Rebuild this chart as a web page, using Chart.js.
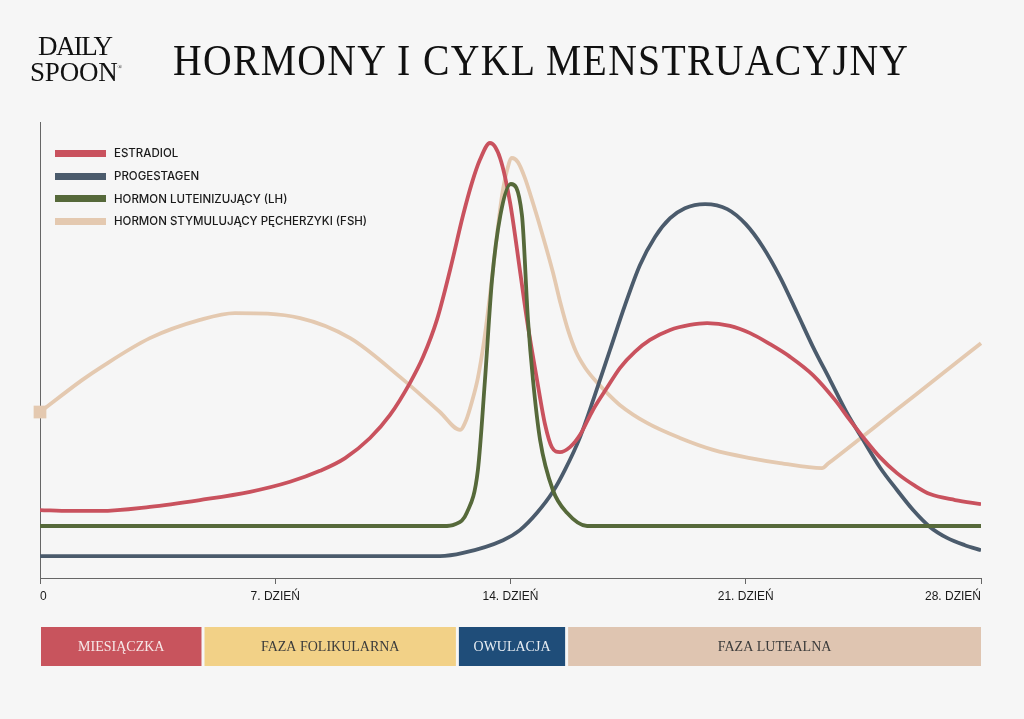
<!DOCTYPE html>
<html lang="pl">
<head>
<meta charset="utf-8">
<title>Hormony i cykl menstruacyjny</title>
<script src="https://cdn.jsdelivr.net/npm/chart.js@4.4.1/dist/chart.umd.min.js"></script>
<style>
  html, body { margin: 0; padding: 0; background: #f6f6f6; }
  #wrap { position: relative; width: 1024px; height: 719px; overflow: hidden; }
  #c { position: absolute; left: 0; top: 0; }
  #logo { position: absolute; left: 30px; top: 36px; font-family: "Liberation Serif", serif; color: #111; font-size: 27px; line-height: 21px; }
  #logo .l1 { padding-left: 8px; letter-spacing: -1.6px; }
  #logo .l2 { letter-spacing: -0.2px; }
  #logo sup { font-size: 6px; letter-spacing: 0; vertical-align: 12px; }
  #title { position: absolute; left: 173px; top: 39px; font-family: "Liberation Serif", serif; font-size: 44px; line-height: 44px; letter-spacing: 1.5px; color: #111; white-space: nowrap; transform-origin: 0 0; }
  #legend { position: absolute; left: 55px; top: 142px; font-family: Inter, "Liberation Sans", sans-serif; font-size: 11.5px; font-weight: 500; color: #1a1a1a; }
  #legend .row { height: 22.7px; display: flex; align-items: center; }
  #legend .sw { width: 51px; height: 7px; margin-right: 8px; }
</style>
</head>
<body>
<div id="wrap">
  <canvas id="c" width="1024" height="719"></canvas>
  <div id="logo"><div class="l1">DAILY</div><div class="l2">SPOON<sup>®</sup></div></div>
  <div id="title">HORMONY I CYKL MENSTRUACYJNY</div>
  <div id="legend"></div>
</div>
<script>
// dzień cyklu -> poziom (skala umowna 0-100)
var estradiolDays = [0, 0.89, 1.79, 3.27, 4.76, 6.25, 7.44, 8.33, 9.08, 9.82, 10.41, 11.01, 11.40, 11.81, 12.2, 12.59, 12.85, 13.09, 13.39, 13.69, 13.99, 14.28, 14.49, 14.79, 15.03, 15.23, 15.47, 15.77, 16.07, 16.45, 16.87, 17.26, 17.70, 18.15, 18.75, 19.34, 19.85, 20.53, 21.13, 21.72, 22.32, 23.0, 23.66, 24.1, 24.49, 24.99, 25.5, 26.04, 26.48, 27.23, 28];
var estradiolValues = [14.9, 14.7, 14.7, 15.6, 17.1, 18.9, 21.1, 23.5, 26.3, 30.7, 35.7, 42.8, 48.5, 56.6, 67.5, 79.6, 86.6, 91.7, 95.4, 92.1, 82.2, 67.5, 56.6, 43.4, 33.6, 28.7, 27.6, 28.7, 31.4, 36.8, 41.7, 46.1, 49.6, 52.2, 54.4, 55.5, 55.9, 55.3, 53.7, 51.3, 48.5, 44.5, 39.0, 34.6, 30.9, 26.5, 23.0, 20.2, 18.4, 17.1, 16.2];

var progestagenDays = [0, 11.9, 12.59, 13.78, 14.28, 14.79, 15.26, 15.62, 16.07, 16.51, 16.96, 17.41, 17.85, 18.30, 18.75, 19.19, 19.79, 20.45, 21.0, 21.51, 22.02, 22.53, 23.0, 23.51, 24.01, 24.49, 24.99, 25.5, 25.98, 26.48, 26.99, 27.52, 28];
var progestagenValues = [4.8, 4.8, 5.5, 8.3, 10.5, 14.3, 18.9, 23.7, 30.9, 40.1, 50.0, 59.9, 68.6, 74.8, 78.9, 81.1, 82.0, 80.9, 77.6, 72.6, 66.0, 58.1, 50.7, 43.4, 36.2, 30.3, 24.3, 19.3, 14.9, 11.2, 8.8, 7.2, 6.1];

var lhDays = [0, 12.0, 12.35, 12.7, 13.03, 13.24, 13.45, 13.7, 14.01, 14.34, 14.52, 14.67, 14.88, 15.26, 15.68, 16.28, 28];
var lhValues = [11.4, 11.4, 11.8, 14.3, 23.7, 43.4, 65.4, 79.6, 86.4, 79.6, 56.6, 43.4, 30.3, 19.3, 14.3, 11.4, 11.4];

var fshDays = [0, 1.25, 1.79, 3.27, 4.76, 5.80, 7.74, 9.23, 10.71, 11.90, 12.5, 12.68, 12.85, 13.03, 13.21, 13.39, 13.57, 13.75, 13.9, 14.04, 14.22, 14.43, 14.67, 14.97, 15.26, 15.5, 15.71, 15.95, 16.22, 16.51, 16.87, 17.26, 18.06, 19.04, 20.03, 21.13, 22.02, 23.27, 23.45, 25.59, 26.8, 28];
var fshValues = [36.4, 43.4, 46.1, 52.6, 56.6, 58.1, 57.0, 52.6, 44.1, 36.4, 32.5, 34.6, 38.6, 43.9, 51.8, 62.1, 73.5, 84.0, 89.5, 92.1, 91.2, 87.7, 82.2, 74.8, 67.1, 59.9, 54.4, 49.6, 46.1, 43.4, 40.6, 37.9, 34.0, 30.7, 28.1, 26.3, 25.2, 24.1, 25.1, 37.5, 44.5, 51.5];

var seriesNames = ['ESTRADIOL', 'PROGESTAGEN', 'HORMON LUTEINIZUJĄCY (LH)', 'HORMON STYMULUJĄCY PĘCHERZYKI (FSH)'];
var seriesColors = ['#c9525e', '#4b5b6c', '#56693a', '#e4c9b0'];

var tickDays = [0, 7, 14, 21, 28];

var phaseNames = ['MIESIĄCZKA', 'FAZA FOLIKULARNA', 'OWULACJA', 'FAZA LUTEALNA'];
var phaseStart = [0, 4.85, 12.42, 15.67];
var phaseEnd = [4.85, 12.42, 15.67, 28];
var phaseColors = ['#c8545d', '#f2d187', '#1f4d79', '#dfc5b1'];
var phaseText = ['#f6e8e8', '#3b3b3b', '#e9eef3', '#3b3b3b'];

function pts(days, vals) {
  var out = [];
  for (var i = 0; i < days.length; i++) out.push({x: days[i], y: vals[i]});
  return out;
}

function line(idx, days, vals, order) {
  return {
    label: seriesNames[idx],
    data: pts(days, vals),
    borderColor: seriesColors[idx],
    backgroundColor: seriesColors[idx],
    borderWidth: 3.8,
    pointRadius: 0,
    cubicInterpolationMode: 'monotone',
    order: order
  };
}

var fsh = line(3, fshDays, fshValues, 3);
fsh.pointRadius = fshDays.map(function(d, i) { return i === 0 ? 9 : 0; });
fsh.pointStyle = 'rect';
fsh.pointBorderWidth = 0;
fsh.clip = false;

// pasek faz cyklu pod osią
var phasePlugin = {
  id: 'phases',
  afterDraw: function(chart) {
    var c = chart.ctx, xs = chart.scales.x;
    c.save();
    for (var i = 0; i < phaseNames.length; i++) {
      var x0 = xs.getPixelForValue(phaseStart[i]) + (i > 0 ? 1.5 : 1);
      var x1 = xs.getPixelForValue(phaseEnd[i]) - (i < phaseNames.length - 1 ? 1.5 : 0);
      c.fillStyle = phaseColors[i];
      c.fillRect(x0, 627, x1 - x0, 39);
      c.fillStyle = phaseText[i];
      c.font = '14px "Liberation Serif", serif';
      c.textAlign = 'center';
      c.textBaseline = 'middle';
      c.fillText(phaseNames[i], (x0 + x1) / 2, 647.5);
    }
    c.restore();
  }
};

new Chart(document.getElementById('c'), {
  type: 'line',
  data: {
    datasets: [
      line(0, estradiolDays, estradiolValues, 1),
      line(1, progestagenDays, progestagenValues, 2),
      line(2, lhDays, lhValues, 0),
      fsh
    ]
  },
  options: {
    responsive: false,
    animation: false,
    layout: { padding: { left: 40, right: 43, top: 122, bottom: 0 } },
    plugins: { legend: { display: false }, tooltip: { enabled: false } },
    scales: {
      x: {
        type: 'linear',
        min: 0,
        max: 28,
        afterFit: function(s) { s.height = 141; },
        afterBuildTicks: function(s) { s.ticks = tickDays.map(function(v) { return {value: v}; }); },
        grid: { drawOnChartArea: false, drawTicks: true, tickLength: 6, color: '#666' },
        border: { display: true, color: '#666', width: 1 },
        ticks: {
          align: 'inner',
          maxRotation: 0,
          padding: 5,
          color: '#1a1a1a',
          font: { family: '"Liberation Sans", Arial, sans-serif', size: 12 },
          callback: function(v) { return v === 0 ? '0' : v + '. DZIEŃ'; }
        }
      },
      y: {
        min: 0,
        max: 100,
        afterFit: function(s) { s.width = 0; },
        grid: { drawOnChartArea: false, drawTicks: false },
        border: { display: true, color: '#666', width: 1 },
        ticks: { display: false }
      }
    }
  },
  plugins: [phasePlugin]
});

// legenda
var lg = document.getElementById('legend');
seriesNames.forEach(function(n, i) {
  var r = document.createElement('div');
  r.className = 'row';
  r.innerHTML = '<div class="sw" style="background:' + seriesColors[i] + '"></div><span>' + n + '</span>';
  lg.appendChild(r);
});

// dopasowanie szerokości tytułu
var t = document.getElementById('title');
var w = t.getBoundingClientRect().width - 1.5;
t.style.transform = 'scaleX(' + (735 / w).toFixed(4) + ')';
</script>
</body>
</html>
